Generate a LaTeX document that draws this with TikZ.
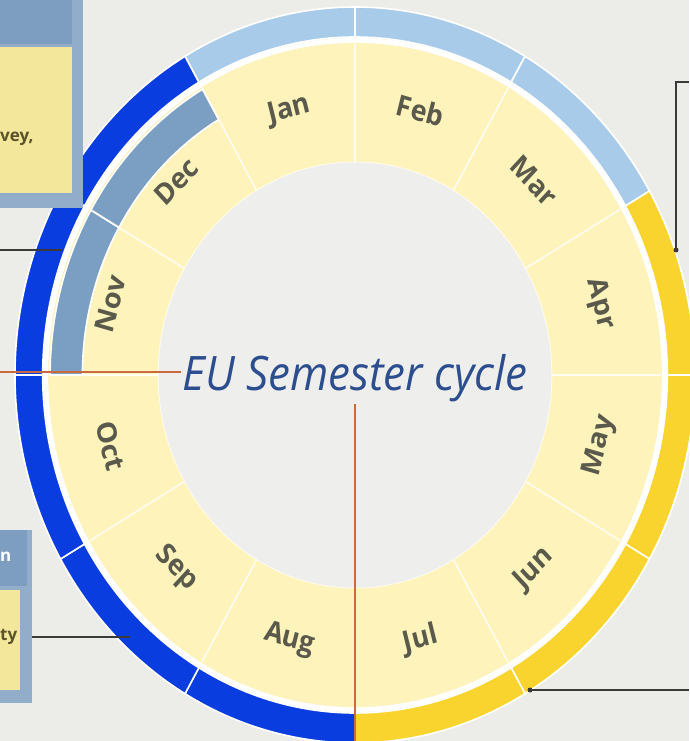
\documentclass[tikz,border=0pt]{standalone}
\usepackage{fontspec}
\setmainfont{Open Sans}
\definecolor{bgC}{HTML}{ECEDE9}
\definecolor{innerC}{HTML}{EEEFEC}
\definecolor{darkBlue}{HTML}{0A3DDF}
\definecolor{lightBlue}{HTML}{A8CBEA}
\definecolor{sunC}{HTML}{F9D42E}
\definecolor{greyBlue}{HTML}{7B9EC3}
\definecolor{monthC}{HTML}{FFF3BC}
\definecolor{labelC}{HTML}{5A5A4C}
\definecolor{titleC}{HTML}{2C4D8E}
\definecolor{redC}{HTML}{C96B3F}
\definecolor{lineC}{HTML}{3A3A3A}
\definecolor{frameC}{HTML}{92ADC9}
\definecolor{headC}{HTML}{7D9EC1}
\definecolor{boxY}{HTML}{F3E79C}
\definecolor{boxText}{HTML}{5A5228}
\newcommand\wheelsector[5]{%
  \filldraw[#1] (#2:#4) arc[start angle=#2, end angle=#3, radius=#4] -- (#3:#5) arc[start angle=#3, end angle=#2, radius=#5] -- cycle;}
\begin{document}
\begin{tikzpicture}[x=1pt,y=1pt,
  sector/.style={draw=white, line width=1.6pt},
  mlabel/.style={text=labelC, font=\fontsize{29}{34}\selectfont\bfseries, transform shape, inner sep=0pt},
  titleS/.style={text=titleC, font=\fontsize{47.5}{54}\selectfont\itshape, transform shape, inner sep=2pt},
  redline/.style={draw=redC, line width=1.8pt},
  conn/.style={draw=lineC, line width=1.5pt},
  boxpart/.style={inner sep=0pt, anchor=north west},
  boxtext/.style={text=boxText, font=\fontsize{17}{20}\selectfont\bfseries, inner sep=0pt}]
\useasboundingbox (0,0) rectangle (689,-741);
\fill[bgC] (0,0) rectangle (689,-741);
\begin{scope}[shift={(355,-375)}, xscale=0.924]
  % outer ring
  \wheelsector{lightBlue, sector}{120}{90}{368}{338}
  \wheelsector{lightBlue, sector}{90}{60}{368}{338}
  \wheelsector{lightBlue, sector}{60}{30}{368}{338}
  \wheelsector{sunC, sector}{30}{0}{368}{338}
  \wheelsector{sunC, sector}{0}{-30}{368}{338}
  \wheelsector{sunC, sector}{-30}{-60}{368}{338}
  \wheelsector{sunC, sector}{-60}{-90}{368}{338}
  \wheelsector{darkBlue, sector}{-90}{-120}{368}{338}
  \wheelsector{darkBlue, sector}{-120}{-150}{368}{338}
  \wheelsector{darkBlue, sector}{-150}{-180}{368}{338}
  \wheelsector{darkBlue, sector}{180}{150}{368}{338}
  \wheelsector{darkBlue, sector}{150}{120}{368}{338}
  % gap and month ring
  \draw[white, line width=5pt] (0,0) circle[radius=334.5];
  \fill[monthC, even odd rule] (0,0) circle[radius=332] (0,0) circle[radius=213];
  \fill[innerC] (0,0) circle[radius=212];
  \draw[white, line width=1pt, opacity=0.7] (0,0) circle[radius=213];
  \wheelsector{greyBlue, sector}{180}{150}{330}{295}
  \wheelsector{greyBlue, sector}{150}{120}{330}{295}
  \foreach \a in {0,30,...,330} {
    \draw[white, line width=1.6pt, opacity=0.8] (\a:213) -- (\a:331);
  }
  \foreach \m/\a in {Jan/105, Feb/75, Mar/45, Apr/15, May/-15, Jun/-45, Jul/-75, Aug/-105, Sep/-135, Oct/-165, Nov/165, Dec/135} {
    \pgfmathsetmacro\rot{\a>0 ? \a-90 : \a+90}
    \node[mlabel, rotate=\rot] (m\m) at (\a:274) {\m};
  }
  \node[titleS, anchor=base] (title) at (0,-15) {EU Semester cycle};
\end{scope}
% red guide lines
\coordinate (hl) at (0,-372);
\coordinate (vbot) at (355,-741);
\draw[redline] (hl) -- (hl -| title.west);
\draw[redline] (title.south) -- (vbot);
% box 1 (top left)
\node[boxpart, fill=frameC, minimum width=83pt, minimum height=208pt] (box1) at (0,0) {};
\node[boxpart, fill=headC, minimum width=72pt, minimum height=44pt] (box1h) at (0,0) {};
\node[boxpart, fill=boxY, minimum width=72pt, minimum height=146pt] (box1c) at (0,-47) {};
\node[boxtext, anchor=west] (t1) at (0,-139) {vey,};
% box 2 (bottom left)
\node[boxpart, fill=frameC, minimum width=32pt, minimum height=173pt] (box2) at (0,-530) {};
\node[boxpart, fill=headC, minimum width=27pt, minimum height=56pt] (box2h) at (0,-530) {};
\node[boxpart, fill=boxY, minimum width=20pt, minimum height=100pt] (box2c) at (0,-590) {};
\node[boxtext, text=white, anchor=west] (t2h) at (0,-557) {n};
\node[boxtext, anchor=west] (t2) at (0,-637) {ty};
% connectors
\coordinate (c1s) at (0,-250);
\coordinate (c1e) at (62,-250);
\draw[conn] (c1s) -- (c1e);
\coordinate (c2e) at (130,-637);
\draw[conn] (box2.east |- c2e) -- (c2e);
\coordinate (c3s) at (689,-82);
\coordinate (c3e) at (676,-250);
\draw[conn] (c3s) -| (c3e);
\fill[lineC] (c3e) circle[radius=2.5];
\coordinate (c4s) at (689,-690);
\coordinate (c4e) at (530,-690);
\draw[conn] (c4s) -- (c4e);
\fill[lineC] (c4e) circle[radius=2.5];
\end{tikzpicture}
\end{document}
